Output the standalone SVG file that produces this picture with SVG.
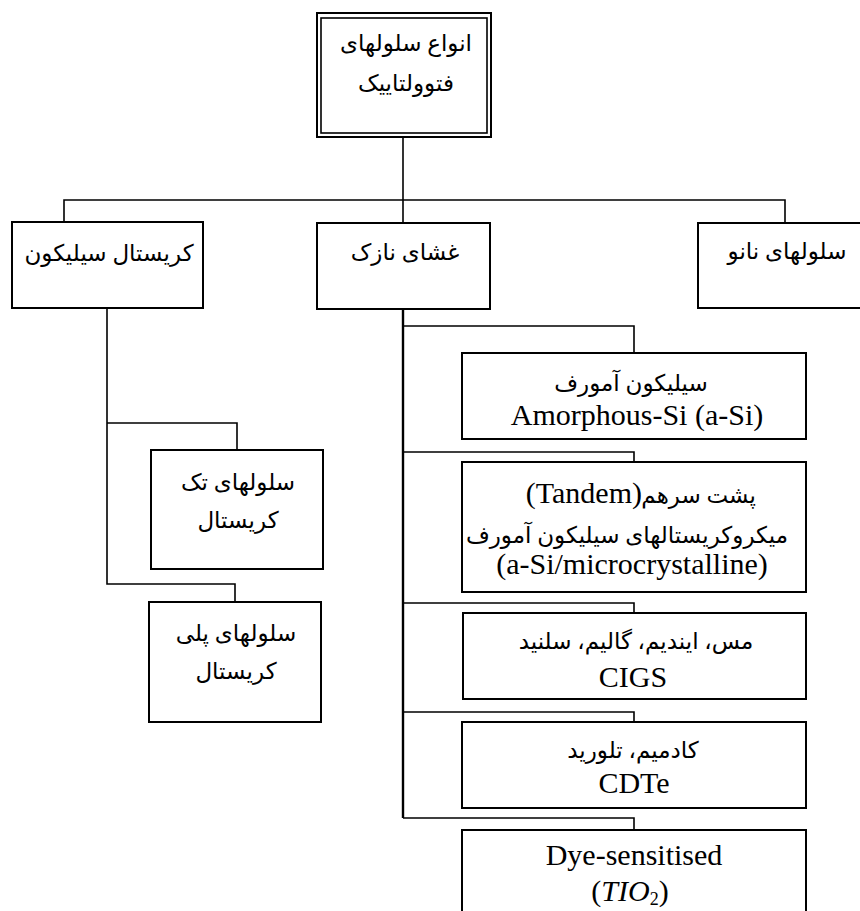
<svg xmlns="http://www.w3.org/2000/svg" width="860" height="911" viewBox="0 0 860 911">
<style>
.box{fill:#fff;stroke:#000;stroke-width:2}
.ln{fill:none;stroke:#000;stroke-width:1.6}
.fa{font-family:"Liberation Serif","DejaVu Sans",serif;font-size:23px;fill:#000;text-anchor:middle}
.la{font-family:"Liberation Serif",serif;font-size:30px;fill:#000;text-anchor:middle}
</style>
<rect width="860" height="911" fill="#fff"/>
<g id="connectors">
<path class="ln" d="M403,137 V223"/>
<path class="ln" d="M64,222 V200 H785 V223"/>
<path class="ln" d="M107,307 V584 H235 V602"/>
<path class="ln" d="M107,423 H237 V450"/>
<path class="ln" style="stroke-width:2.4" d="M403,309 V818"/>
<path class="ln" d="M403,326 H634 V353"/>
<path class="ln" d="M403,452 H634 V462"/>
<path class="ln" d="M403,603 H634 V613"/>
<path class="ln" d="M403,712 H634 V722"/>
<path class="ln" d="M403,818 H634 V830"/>
</g>
<g id="root">
<rect class="box" x="317" y="13" width="174" height="124"/>
<rect class="box" x="321" y="18" width="166" height="115" style="stroke-width:1.6"/>
<text class="fa" x="406" y="51">انواع سلولهای</text>
<text class="fa" x="406" y="91">فتوولتاییک</text>
</g>
<g id="crystal-silicon">
<rect class="box" x="12" y="222" width="191" height="86"/>
<text class="fa" x="109" y="261">کریستال سیلیکون</text>
</g>
<g id="thin-film">
<rect class="box" x="317" y="223" width="173" height="86"/>
<text class="fa" x="405" y="260">غشای نازک</text>
</g>
<g id="nano">
<rect class="box" x="698" y="223" width="180" height="85"/>
<text class="fa" x="787" y="259">سلولهای نانو</text>
</g>
<g id="mono">
<rect class="box" x="151" y="450" width="172" height="119"/>
<text class="fa" x="238" y="490">سلولهای تک</text>
<text class="fa" x="238" y="528">کریستال</text>
</g>
<g id="poly">
<rect class="box" x="149" y="602" width="172" height="120"/>
<text class="fa" x="236" y="641">سلولهای پلی</text>
<text class="fa" x="236" y="679">کریستال</text>
</g>
<g id="amorphous">
<rect class="box" x="462" y="353" width="344" height="86"/>
<text class="fa" x="631" y="391">سیلیکون آمورف</text>
<text class="la" x="637" y="425">Amorphous-Si (a-Si)</text>
</g>
<g id="tandem">
<rect class="box" x="462" y="462" width="344" height="130"/>
<text class="fa" x="756" y="503" style="text-anchor:end">پشت سرهم</text>
<text class="la" x="642" y="503" style="text-anchor:end">(Tandem)</text>
<text class="fa" x="627" y="543">میکروکریستالهای سیلیکون آمورف</text>
<text class="la" x="632" y="574">(a-Si/microcrystalline)</text>
</g>
<g id="cigs">
<rect class="box" x="463" y="613" width="343" height="86"/>
<text class="fa" x="636" y="649">مس، ایندیم، گالیم، سلنید</text>
<text class="la" x="633" y="687">CIGS</text>
</g>
<g id="cdte">
<rect class="box" x="462" y="722" width="344" height="86"/>
<text class="fa" x="633" y="758">کادمیم، تلورید</text>
<text class="la" x="634" y="793">CDTe</text>
</g>
<g id="dye">
<rect class="box" x="462" y="830" width="344" height="100"/>
<text class="la" x="634" y="865">Dye-sensitised</text>
<text class="la" x="630" y="901">(<tspan font-style="italic">TIO</tspan><tspan font-size="18" dy="4">2</tspan><tspan dy="-4">)</tspan></text>
</g>
</svg>
